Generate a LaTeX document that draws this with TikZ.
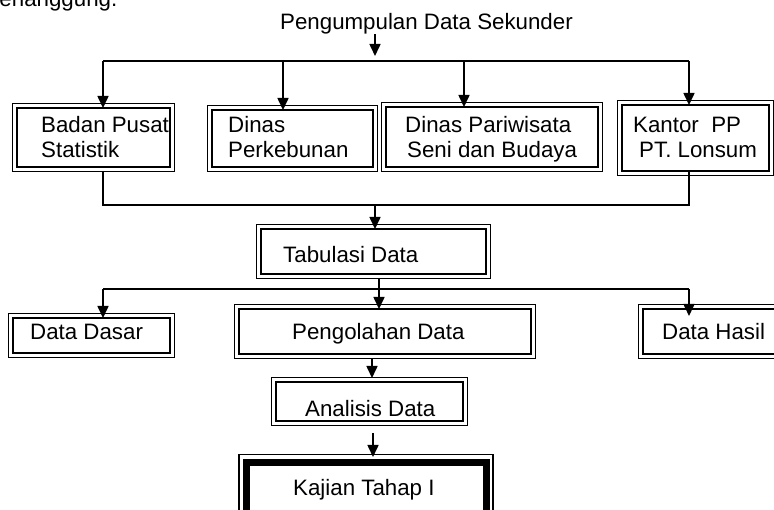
\documentclass[tikz,border=0pt]{standalone}
\usepackage{fontspec}
\setmainfont{Liberation Sans}
\usetikzlibrary{arrows.meta,calc}
\begin{document}
\begin{tikzpicture}[x=1pt,y=-1pt,
 txt/.style={anchor=base west,inner sep=0pt,font=\fontsize{22.3}{25}\selectfont},
 ibox/.style={draw,line width=2.2pt,inner sep=0pt,outer sep=0pt,rectangle},
 obox/.style={draw,line width=1.2pt},
 conn/.style={line width=1.6pt},
 arr/.style={conn,-{Triangle[length=12pt,width=11pt]}}]
\useasboundingbox (0,0) rectangle (774,510);

% boxes (inner frames)
\node[ibox,minimum width=153pt,minimum height=59pt] (b1) at (93.5,137.5) {};
\node[ibox,minimum width=161pt,minimum height=57pt] (b2) at (292.5,138.5) {};
\node[ibox,minimum width=212pt,minimum height=60pt] (b3) at (492,137) {};
\node[ibox,minimum width=147pt,minimum height=66pt] (b4) at (695.5,138) {};
\node[ibox,minimum width=225pt,minimum height=45pt] (tab) at (373.5,251.5) {};
\node[ibox,minimum width=157pt,minimum height=35pt] (dd) at (91.5,335.5) {};
\node[ibox,minimum width=292pt,minimum height=45pt] (pg) at (385,331.5) {};
\node[ibox,minimum width=133pt,minimum height=45pt] (dh) at (709.5,331.5) {};
\node[ibox,minimum width=187pt,minimum height=39pt] (an) at (369.5,401.5) {};
\node[draw,line width=7pt,inner sep=0pt,outer sep=0pt,minimum width=240pt,minimum height=80pt] (kj) at (366,503) {};

% outer frames
\foreach \n in {b1,b2,b3,b4,tab,dd,pg,dh,an}
  \draw[obox] ($(\n.north west)+(-4.3,-4.3)$) rectangle ($(\n.south east)+(4.3,4.3)$);
\draw[obox] ($(kj.north west)+(-7,-8.5)$) rectangle ($(kj.south east)+(7,8.5)$);

% texts
\node[txt,anchor=base east] (pre) at (117.5,7) {penanggung.};
\node[txt] (t) at (280,29.3) {Pengumpulan Data Sekunder};
\node[txt] (b1a) at (41,133) {Badan Pusat};
\node[txt] (b1b) at (41,158) {Statistik};
\node[txt] (b2a) at (228,133) {Dinas};
\node[txt] (b2b) at (228,158) {Perkebunan};
\node[txt] (b3a) at (405,133) {Dinas Pariwisata};
\node[txt] (b3b) at (407,158) {Seni dan Budaya};
\node[txt] (b4a) at (633,133) {Kantor\ \ PP};
\node[txt] (b4b) at (639,158) {PT. Lonsum};
\node[txt] (tabt) at (283,263) {Tabulasi Data};
\node[txt] (ddt) at (30,340) {Data Dasar};
\node[txt] (pgt) at (292,340) {Pengolahan Data};
\node[txt] (dht) at (662,340) {Data Hasil};
\node[txt] (ant) at (305,417) {Analisis Data};
\node[txt] (kjt) at (293,496) {Kajian Tahap I};

% connectors
\coordinate (h0) at (375,61);
\coordinate (hl) at (103,61);
\coordinate (h2) at (283,61);
\coordinate (h3) at (464,61);
\coordinate (hr) at (689,61);
\draw[arr] (t.south -| h0) -- ($(h0)+(0,-5)$);
\draw[conn] (hl) -- (hr);
\draw[arr] (hl) -- (hl |- b1.north);
\draw[arr] (h2) -- (h2 |- b2.north);
\draw[arr] (h3) -- (h3 |- b3.north);
\draw[arr] (hr) -- (hr |- b4.north);

\coordinate (g1) at (103,205);
\coordinate (g4) at (689,205);
\coordinate (g0) at (375,205);
\draw[conn,shorten <=4pt] (hl |- b1.south) -- (g1) -- (g4) -- (hr |- b4.south);
\draw[arr] (g0) -- (g0 |- tab.north);

\coordinate (m0) at (379,289);
\coordinate (m1) at (103,289);
\coordinate (m3) at (689,289);
\draw[arr,shorten <=4pt] (tab.south -| m0) -- (m0 |- pg.north);
\draw[conn] (m1) -- (m3);
\draw[arr] (m1) -- (m1 |- dd.north);
\draw[arr] (m3) -- ($(m3 |- dh.north)+(0,7)$);

\coordinate (q1) at (372,0);
\coordinate (q2) at (373,0);
\draw[arr,shorten <=4pt] (pg.south -| q1) -- ($(an.north -| q1)+(0,-4)$);
\draw[arr] ($(an.south -| q2)+(0,12)$) -- ($(kj.north -| q2)+(0,-6)$);
\end{tikzpicture}
\end{document}
